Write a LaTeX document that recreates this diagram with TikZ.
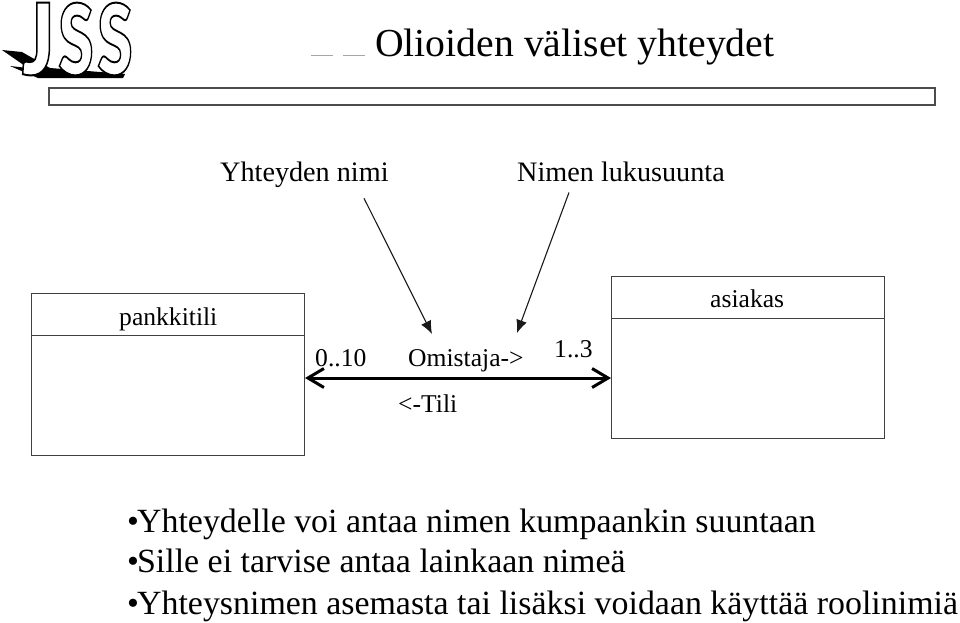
\documentclass[tikz,border=0pt]{standalone}
\usepackage{fontspec}
\usepackage{graphicx}
\setmainfont{Liberation Serif}
\newfontfamily\logofont{Lato Black}
\usetikzlibrary{arrows.meta}
\tikzset{
  lbl/.style={anchor=base west,inner sep=0pt,font=\fontsize{28.2}{28}\selectfont},
  small/.style={anchor=base west,inner sep=0pt,font=\fontsize{25.6}{26}\selectfont},
  body/.style={anchor=base west,inner sep=0pt,font=\fontsize{33.9}{34}\selectfont},
  classbox/.style={draw=black!75,line width=1pt,minimum width=273pt,minimum height=162pt,inner sep=0pt,anchor=north west},
  pointer/.style={draw=black!90,line width=1.1pt,-{Latex[length=13pt,width=11pt]}},
  assoc/.style={line width=3pt,{Straight Barb[length=16pt,width=19pt]}-{Straight Barb[length=16pt,width=19pt]}},
  logoglyph/.style={inner sep=0pt,anchor=center}
}
\newcommand{\logoL}[3]{\resizebox{#1pt}{#2pt}{\logofont\special{pdf:code q 2 Tr 0.2 w 1 1 1 rg 0 0 0 RG}#3\special{pdf:code Q}}}
\begin{document}
\begin{tikzpicture}[x=1pt,y=-1pt]
\useasboundingbox (0,0) rectangle (960,622);
% logo shadow
\fill[black] (2,50) -- (22,52) -- (50,68) -- (125,74) -- (123,78) -- (38,78) -- (10,66) -- (28,68) -- cycle;
% logo letters
\node[logoglyph] (j1) at (38,39) {\logoL{32}{72}{J}};
\node[logoglyph] (s1) at (76,39) {\logoL{35}{72}{S}};
\node[logoglyph] (s3) at (115,39) {\logoL{35}{72}{S}};
% title
\draw[black!35,line width=0.7pt] (311,55) -- (333,55) (343,55) -- (365,55);
\node[anchor=base west,inner sep=0pt,font=\fontsize{39.7}{40}\selectfont] (title) at (375,56) {Olioiden väliset yhteydet};
\draw[black!70,line width=1.2pt] (49,88) rectangle (935,105);
% labels
\node[lbl] (nimi) at (220,181) {Yhteyden nimi};
\node[lbl] (suunta) at (517,181) {Nimen lukusuunta};
% boxes
\node[classbox] (pankki) at (31,293) {};
\draw[black!75,line width=1pt] (pankki.north west) ++(0,42) -- ++(273,0);
\node[small] (ptxt) at (119,325) {pankkitili};
\node[classbox] (asiakas) at (611,276) {};
\draw[black!75,line width=1pt] (asiakas.north west) ++(0,42) -- ++(273,0);
\node[small] (atxt) at (710,307) {asiakas};
% association
\coordinate (level) at (0,378);
\draw[assoc] (pankki.east |- level) -- (asiakas.west |- level);
\node[small] (m1) at (315,366) {0..10};
\node[small] (rn) at (408,366) {Omistaja->};
\node[small] (m2) at (554,357) {1..3};
\node[small] (tili) at (398,412) {<-Tili};
% pointers
\coordinate (p1) at (432,334);
\coordinate (p2) at (517,333);
\draw[pointer] (nimi.south -| 364,0) ++(0,11) -- (p1);
\draw[pointer] (suunta.south -| 569,0) ++(0,11) -- (p2);
% bullets
\node[body] (b1) at (127,532) {•\hspace{-2pt}Yhteydelle voi antaa nimen kumpaankin suuntaan};
\node[body] (b2) at (127,572) {•\hspace{-2pt}Sille ei tarvise antaa lainkaan nimeä};
\node[body] (b3) at (127,614) {•\hspace{-2pt}Yhteysnimen asemasta tai lisäksi voidaan käyttää roolinimiä};
\end{tikzpicture}
\end{document}
